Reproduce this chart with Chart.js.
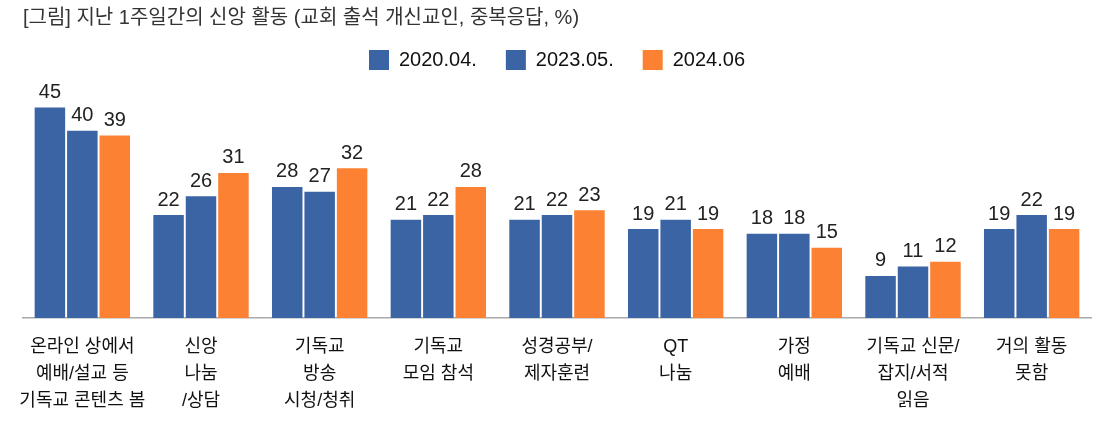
<!DOCTYPE html>
<html>
<head>
<meta charset="utf-8">
<script src="https://cdn.jsdelivr.net/npm/chart.js@4.4.1/dist/chart.umd.min.js"></script>
<style>
  html, body { margin:0; padding:0; background:#fff; }
  #wrap { width:1101px; height:429px; position:relative; }
</style>
</head>
<body>
<div id="wrap"><canvas id="chart"></canvas></div>
<script>
const categories = [
  ['온라인 상에서', '예배/설교 등', '기독교 콘텐츠 봄'],
  ['신앙', '나눔', '/상담'],
  ['기독교', '방송', '시청/청취'],
  ['기독교', '모임 참석'],
  ['성경공부/', '제자훈련'],
  ['QT', '나눔'],
  ['가정', '예배'],
  ['기독교 신문/', '잡지/서적', '읽음'],
  ['거의 활동', '못함']
];
const seriesNames = ['2020.04.', '2023.05.', '2024.06'];
const s2020 = [45, 22, 28, 21, 21, 19, 18, 9, 19];
const s2023 = [40, 26, 27, 22, 22, 21, 18, 11, 22];
const s2024 = [39, 31, 32, 28, 23, 19, 15, 12, 19];
const colors = ['#3a64a3', '#3a64a3', '#fd8133'];

const FONT = '"Liberation Sans", "Noto Sans CJK KR", sans-serif';

const valueLabels = {
  id: 'valueLabels',
  afterDatasetsDraw(chart){
    const ctx = chart.ctx;
    ctx.save();
    ctx.font = '20px ' + FONT;
    ctx.fillStyle = '#222';
    ctx.textAlign = 'center';
    ctx.textBaseline = 'bottom';
    chart.data.datasets.forEach((ds, i)=>{
      chart.getDatasetMeta(i).data.forEach((el, j)=>{
        ctx.fillText(String(ds.data[j]), el.x, el.y - 5);
      });
    });
    ctx.restore();
  }
};

// a bit more room under the legend
const legendGap = {
  id: 'legendGap',
  beforeInit(chart){
    const fit = chart.legend.fit;
    chart.legend.fit = function(){ fit.call(this); this.height += 4; };
  }
};

new Chart(document.getElementById('chart'), {
  type: 'bar',
  data: {
    labels: categories,
    datasets: [
      { label: seriesNames[0], data: s2020, backgroundColor: colors[0] },
      { label: seriesNames[1], data: s2023, backgroundColor: colors[1] },
      { label: seriesNames[2], data: s2024, backgroundColor: colors[2] },
    ]
  },
  options: {
    responsive: true, maintainAspectRatio: false, animation: false,
    datasets: { bar: { categoryPercentage: 0.82, barPercentage: 0.94 } },
    layout: { padding: { left: 23, right: 10, top: 0, bottom: 0 } },
    plugins: {
      title: {
        display: true, align: 'start',
        text: '[그림] 지난 1주일간의 신앙 활동 (교회 출석 개신교인, 중복응답, %)',
        color: '#333', font: { family: FONT, size: 20, weight: 'normal' },
        padding: { top: 6, bottom: -9 }
      },
      legend: {
        position: 'top',
        labels: { color: '#111', boxWidth: 20, boxHeight: 20, padding: 29, font: { family: FONT, size: 20 } }
      },
      tooltip: { enabled: false }
    },
    scales: {
      x: {
        grid: { display: false },
        border: { display: true, color: '#aaa', width: 1.5 },
        ticks: { color: '#111', padding: 8, maxRotation: 0, autoSkip: false, font: { family: FONT, size: 18, lineHeight: 1.5 } },
        afterFit(s){ s.height = 111; }
      },
      y: { display: false, min: 0, max: 50 }
    }
  },
  plugins: [valueLabels, legendGap]
});
</script>
</body>
</html>
